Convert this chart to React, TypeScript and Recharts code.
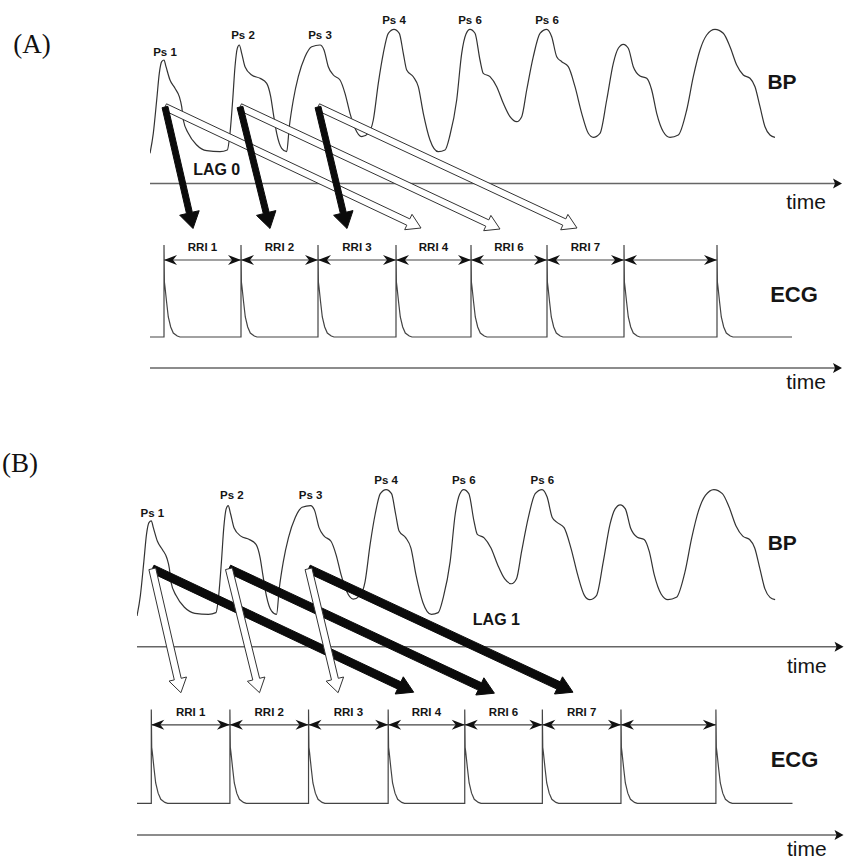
import React from "react";
import { ComposedChart, Line, XAxis, YAxis, ReferenceLine, ReferenceDot } from "recharts";

// Blood pressure trace, time in s, level in chart units (one line per beat)
const bpTime = [
  0, 0.033, 0.067, 0.093, 0.117, 0.14, 0.16, 0.2, 0.25, 0.293, 0.317, 0.333, 0.383, 0.467, 0.567, 0.7, 0.773,
  0.8, 0.827, 0.85, 0.873, 0.893, 0.917, 0.95, 1.017, 1.1, 1.167, 1.207, 1.233, 1.267, 1.317, 1.367,
  1.393, 1.433, 1.483, 1.55, 1.617, 1.7, 1.74, 1.783, 1.833, 1.9, 1.95, 2.0, 2.05, 2.117, 2.183,
  2.233, 2.283, 2.333, 2.383, 2.44, 2.493, 2.533, 2.567, 2.633, 2.683, 2.733, 2.8, 2.883, 2.95,
  3.0, 3.067, 3.117, 3.16, 3.2, 3.25, 3.3, 3.333, 3.4, 3.467, 3.533, 3.6, 3.667, 3.717,
  3.767, 3.833, 3.9, 3.967, 4.017, 4.067, 4.117, 4.183, 4.25, 4.317, 4.383, 4.433, 4.5,
  4.567, 4.633, 4.683, 4.733, 4.783, 4.833, 4.9, 4.967, 5.017, 5.067, 5.133, 5.2, 5.283,
  5.367, 5.433, 5.5, 5.567, 5.65, 5.733, 5.8, 5.867, 5.933, 6.0, 6.05, 6.1, 6.15, 6.2, 6.25,
];
const bpLevel = [
  21.47, 23.47, 26.8, 29.47, 30.63, 30.8, 30.13, 28.8, 27.97, 27.13, 26.13, 24.8, 23.47, 22.3, 21.73, 21.63, 21.8,
  23.47, 26.8, 30.13, 31.97, 32.3, 31.47, 30.13, 29.3, 28.97, 28.47, 27.13, 25.47, 23.47, 21.97, 21.63,
  24.13, 26.8, 29.13, 31.13, 32.13, 32.3, 31.8, 30.13, 29.3, 28.8, 27.47, 25.47, 23.97, 23.13, 23.47,
  24.8, 28.47, 31.47, 33.47, 33.87, 33.47, 31.47, 29.8, 29.13, 28.13, 25.47, 22.8, 21.63, 21.8,
  23.3, 26.8, 31.47, 33.4, 33.87, 33.47, 30.8, 29.47, 29.13, 28.13, 26.47, 25.13, 24.63, 25.13,
  27.8, 31.13, 33.47, 33.87, 33.13, 31.13, 30.63, 30.13, 28.13, 25.47, 23.47, 23.07, 23.47,
  26.8, 30.47, 31.97, 32.37, 31.97, 30.13, 29.2, 28.97, 27.8, 25.47, 23.63, 23.07, 23.3,
  25.8, 29.13, 31.8, 33.3, 33.87, 33.47, 32.13, 30.3, 29.3, 28.97, 28.13, 26.13, 24.13, 23.3, 23.07,
];

// R waves of the ECG (s)
const rPeaks = [0.14, 0.91, 1.68, 2.46, 3.21, 3.97, 4.74, 5.67];
// shape of one complex: offset after the R wave (s) and level
const qrsOffset = [0, 0, 0.004, 0.01, 0.027, 0.043, 0.067, 0.093, 0.133, 0.16];
const qrsLevel = [3.1, 12.3, 8.6, 8.1, 6.5, 5.1, 4.1, 3.5, 3.2, 3.1];
const ecgBase = 3.1;
const ecgEnd = 6.42;

const rriLabels = ["RRI 1", "RRI 2", "RRI 3", "RRI 4", "RRI 6", "RRI 7", ""];
const rriLevel = 10.8;
const rriLabelLevel = 12.1;

const psLabels = ["Ps 1", "Ps 2", "Ps 3", "Ps 4", "Ps 6", "Ps 6"];
const psTime = [0.15, 0.93, 1.7, 2.44, 3.2, 3.97];
const psLevel = [31.6, 33.3, 33.3, 34.8, 34.8, 34.8];

// arrows leave the first three pressure beats
const arrowFromTime = [0.15, 0.9, 1.68];
const arrowFromLevel = [26.1, 26.1, 26.1];
const shortToTime = [0.43, 1.2, 1.97];
const shortToLevel = [13.95, 13.95, 13.95];
const longToTime = [2.71, 3.5, 4.27];
const longToLevel = [14.0, 13.9, 14.0];

const timeAxisLevels = [18.45, 0];
const timeAxisEnd = 6.92;

const bpData = bpTime.map((t, i) => ({ t, v: bpLevel[i] }));

const ecgData = [{ t: 0, v: ecgBase }];
rPeaks.forEach((r) => {
  qrsOffset.forEach((o, i) => ecgData.push({ t: r + o, v: qrsLevel[i] }));
});
ecgData.push({ t: ecgEnd, v: ecgBase });

const SANS = "'Liberation Sans', Arial, sans-serif";

type ArrowStyle = { fill: string; stroke: string; shaft: number; headW: number; headL: number };

function arrowPath(x1: number, y1: number, x2: number, y2: number, s: ArrowStyle) {
  const len = Math.hypot(x2 - x1, y2 - y1);
  const ux = (x2 - x1) / len;
  const uy = (y2 - y1) / len;
  const nx = -uy;
  const ny = ux;
  const kx = x2 - ux * s.headL;
  const ky = y2 - uy * s.headL;
  const pts = [
    [x1 + (nx * s.shaft) / 2, y1 + (ny * s.shaft) / 2],
    [kx + (nx * s.shaft) / 2, ky + (ny * s.shaft) / 2],
    [kx + (nx * s.headW) / 2, ky + (ny * s.headW) / 2],
    [x2, y2],
    [kx - (nx * s.headW) / 2, ky - (ny * s.headW) / 2],
    [kx - (nx * s.shaft) / 2, ky - (ny * s.shaft) / 2],
    [x1 - (nx * s.shaft) / 2, y1 - (ny * s.shaft) / 2],
  ];
  return "M" + pts.map((p) => p[0].toFixed(1) + "," + p[1].toFixed(1)).join("L") + "Z";
}

const blockArrow = (s: ArrowStyle) => (p: any) => (
  <path
    d={arrowPath(p.x1, p.y1, p.x2, p.y2, s)}
    fill={s.fill}
    stroke={s.stroke}
    strokeWidth={1}
    strokeLinejoin="miter"
  />
);

// interval marker with barbed heads at both ends
const RriArrow = (p: any) => {
  const { x1, x2 } = p;
  const y = p.y1;
  const L = 13;
  const w = 5;
  const n = 4;
  return (
    <g>
      <line x1={x1} y1={y} x2={x2} y2={y} stroke="#444" strokeWidth={1.2} />
      <path d={`M${x1},${y}L${x1 + L},${y - w}L${x1 + L - n},${y}L${x1 + L},${y + w}Z`} fill="#111" />
      <path d={`M${x2},${y}L${x2 - L},${y - w}L${x2 - L + n},${y}L${x2 - L},${y + w}Z`} fill="#111" />
    </g>
  );
};

const TimeArrow = (p: any) => {
  const { x1, x2 } = p;
  const y = p.y1;
  return (
    <g>
      <line x1={x1} y1={y} x2={x2 - 4} y2={y} stroke="#666" strokeWidth={1.6} />
      <path d={`M${x2},${y}L${x2 - 9},${y - 5}L${x2 - 7},${y}L${x2 - 9},${y + 5}Z`} fill="#111" />
    </g>
  );
};

const textShape = (text: string, size: number, weight: string | number) => (p: any) => (
  <text
    x={p.cx}
    y={p.cy}
    textAnchor="middle"
    dominantBaseline="central"
    fontFamily={SANS}
    fontSize={size}
    fontWeight={weight}
    fill="#151515"
  >
    {text}
  </text>
);

type PanelProps = {
  top: number;
  height: number;
  margin: { top: number; right: number; bottom: number; left: number };
  lagText: string;
  lagTime: number;
  lagLevel: number;
  shortStyle: ArrowStyle;
  longStyle: ArrowStyle;
};

function Panel({ top, height, margin, lagText, lagTime, lagLevel, shortStyle, longStyle }: PanelProps) {
  return (
    <div style={{ position: "absolute", left: 0, top }}>
      <ComposedChart width={844} height={height} margin={margin}>
        <XAxis dataKey="t" type="number" domain={[0, 6.9]} allowDataOverflow hide />
        <YAxis type="number" domain={[0, 36]} allowDataOverflow hide />
        <Line
          data={bpData}
          dataKey="v"
          type="monotone"
          stroke="#333"
          strokeWidth={1.2}
          dot={false}
          activeDot={false}
          isAnimationActive={false}
        />
        <Line
          data={ecgData}
          dataKey="v"
          type="linear"
          stroke="#444"
          strokeWidth={1.2}
          dot={false}
          activeDot={false}
          isAnimationActive={false}
        />
        {timeAxisLevels.map((lv) => (
          <ReferenceLine
            key={"ax" + lv}
            segment={[
              { x: 0, y: lv },
              { x: timeAxisEnd, y: lv },
            ]}
            ifOverflow="visible"
            shape={TimeArrow}
          />
        ))}
        {rPeaks.slice(1).map((r, i) => (
          <ReferenceLine
            key={"rri" + i}
            segment={[
              { x: rPeaks[i], y: rriLevel },
              { x: r, y: rriLevel },
            ]}
            shape={RriArrow}
          />
        ))}
        {rriLabels.map((lab, i) =>
          lab ? (
            <ReferenceDot
              key={"rl" + i}
              x={(rPeaks[i] + rPeaks[i + 1]) / 2}
              y={rriLabelLevel}
              r={0}
              shape={textShape(lab, 11.5, "bold")}
            />
          ) : null
        )}
        {longToTime.map((t, i) => (
          <ReferenceLine
            key={"long" + i}
            segment={[
              { x: arrowFromTime[i], y: arrowFromLevel[i] },
              { x: t, y: longToLevel[i] },
            ]}
            shape={blockArrow(longStyle)}
          />
        ))}
        {shortToTime.map((t, i) => (
          <ReferenceLine
            key={"short" + i}
            segment={[
              { x: arrowFromTime[i], y: arrowFromLevel[i] },
              { x: t, y: shortToLevel[i] },
            ]}
            shape={blockArrow(shortStyle)}
          />
        ))}
        {psLabels.map((lab, i) => (
          <ReferenceDot key={"ps" + i} x={psTime[i]} y={psLevel[i]} r={0} shape={textShape(lab, 11.5, "bold")} />
        ))}
        <ReferenceDot x={lagTime} y={lagLevel} r={0} shape={textShape(lagText, 16, "bold")} />
        <ReferenceDot x={6.32} y={28.7} r={0} shape={textShape("BP", 21, "bold")} />
        <ReferenceDot x={6.44} y={7.4} r={0} shape={textShape("ECG", 22, "bold")} />
        <ReferenceDot x={6.56} y={16.65} r={0} shape={textShape("time", 21, "normal")} />
        <ReferenceDot x={6.56} y={-1.35} r={0} ifOverflow="visible" shape={textShape("time", 21, "normal")} />
      </ComposedChart>
    </div>
  );
}

const solidA: ArrowStyle = { fill: "#0b0b0b", stroke: "#0b0b0b", shaft: 6, headW: 20, headL: 16 };
const hollowA: ArrowStyle = { fill: "#ffffff", stroke: "#333", shaft: 7, headW: 17, headL: 14 };
const solidB: ArrowStyle = { fill: "#0b0b0b", stroke: "#0b0b0b", shaft: 8, headW: 19, headL: 16 };
const hollowB: ArrowStyle = { fill: "#ffffff", stroke: "#333", shaft: 7, headW: 18, headL: 14 };

const panelLetter = (text: string, x: number, y: number) => (
  <svg style={{ position: "absolute", left: 0, top: 0, overflow: "visible" }} width={1} height={1}>
    <text x={x} y={y} textAnchor="middle" fontFamily="'Liberation Serif', 'Times New Roman', serif" fontSize={27} fill="#111">
      {text}
    </text>
  </svg>
);

export default function App() {
  return (
    <div style={{ position: "absolute", left: 0, top: 0, width: 844, height: 861, background: "#fff" }}>
      <Panel
        top={0}
        height={430}
        margin={{ top: 8, right: 4, bottom: 62, left: 150 }}
        lagText="LAG 0"
        lagTime={0.667}
        lagLevel={19.9}
        shortStyle={solidA}
        longStyle={hollowA}
      />
      <Panel
        top={430}
        height={431}
        margin={{ top: 37.8, right: 2.5, bottom: 26, left: 137 }}
        lagText="LAG 1"
        lagTime={3.52}
        lagLevel={21.1}
        shortStyle={hollowB}
        longStyle={solidB}
      />
      {panelLetter("(A)", 32, 53)}
      {panelLetter("(B)", 20, 472)}
    </div>
  );
}
